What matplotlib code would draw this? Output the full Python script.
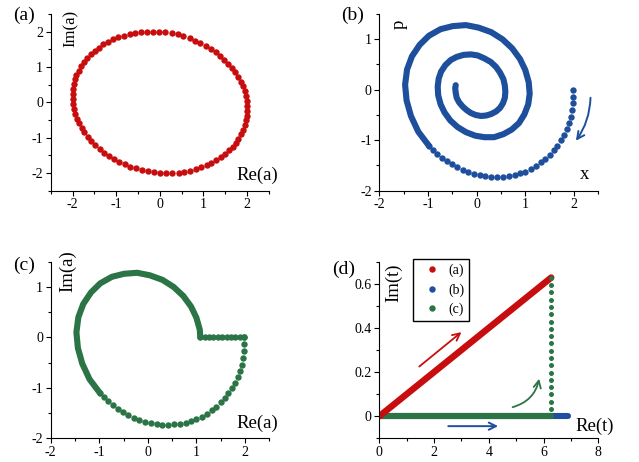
import matplotlib
matplotlib.use('Agg')
import matplotlib.pyplot as plt
from matplotlib.lines import Line2D
from matplotlib.ticker import MultipleLocator

plt.rcParams['font.family'] = ['Liberation Serif', 'DejaVu Serif']
plt.rcParams['axes.unicode_minus'] = False

RED = '#C80D0F'
BLUE = '#1D4F9C'
GREEN = '#2B7446'

# (a) closed orbit, Re(a) / Im(a)
a_re = [2.00, 1.99, 1.97, 1.94, 1.90, 1.85, 1.79, 1.73, 1.65, 1.57, 1.48, 1.38, 1.28, 1.17, 1.05,
        0.93, 0.80, 0.68, 0.54, 0.41, 0.27, 0.13, -0.01, -0.15, -0.29, -0.43, -0.56, -0.69, -0.82,
        -0.95, -1.07, -1.18, -1.29, -1.40, -1.49, -1.58, -1.67, -1.74, -1.80, -1.86, -1.91, -1.94,
        -1.97, -1.99, -2.00,
        -2.00, -1.99, -1.97, -1.94, -1.90, -1.85, -1.79, -1.73, -1.65, -1.57, -1.48, -1.38, -1.28,
        -1.17, -1.05, -0.93, -0.80, -0.68, -0.54, -0.41, -0.27, -0.13, 0.01, 0.15, 0.29, 0.43, 0.56,
        0.69, 0.82, 0.95, 1.07, 1.18, 1.29, 1.40, 1.49, 1.58, 1.67, 1.74, 1.80, 1.86, 1.91, 1.94,
        1.97, 1.99, 2.00]
a_im = [-0.10, 0.04, 0.18, 0.32, 0.46, 0.59, 0.72, 0.85, 0.98, 1.09, 1.21, 1.32, 1.42, 1.51, 1.60,
        1.68, 1.75, 1.82, 1.87, 1.92, 1.95, 1.98, 2.00, 2.00, 2.00, 1.99, 1.96, 1.93, 1.89, 1.84,
        1.78, 1.71, 1.64, 1.55, 1.46, 1.36, 1.26, 1.14, 1.03, 0.90, 0.78, 0.65, 0.51, 0.38, 0.24,
        0.10, -0.04, -0.18, -0.32, -0.46, -0.59, -0.72, -0.85, -0.98, -1.09, -1.21, -1.32, -1.42,
        -1.51, -1.60, -1.68, -1.75, -1.82, -1.87, -1.92, -1.95, -1.98, -2.00, -2.00, -2.00, -1.99,
        -1.96, -1.93, -1.89, -1.84, -1.78, -1.71, -1.64, -1.55, -1.46, -1.36, -1.26, -1.14, -1.03,
        -0.90, -0.78, -0.65, -0.51, -0.38, -0.24]

# (b)/(c) first part of the damped orbit, separate dots
bead_x = [1.98, 1.98, 1.97, 1.96, 1.93, 1.89, 1.85, 1.79, 1.73, 1.66, 1.59, 1.50, 1.41, 1.32,
          1.22, 1.11, 1.00, 0.89, 0.78, 0.66, 0.54, 0.42, 0.30, 0.18, 0.06, -0.06, -0.18, -0.29,
          -0.40, -0.51, -0.61, -0.71, -0.81, -0.90, -0.98]
bead_p = [0.00, -0.14, -0.27, -0.41, -0.54, -0.66, -0.78, -0.90, -1.00, -1.11, -1.20, -1.29,
          -1.37, -1.44, -1.51, -1.57, -1.62, -1.65, -1.69, -1.71, -1.72, -1.73, -1.73, -1.71,
          -1.69, -1.67, -1.63, -1.59, -1.54, -1.48, -1.42, -1.35, -1.27, -1.19, -1.11]

# rest of the spiral, where the dots overlap into a band
spiral_x = [-0.98, -1.20, -1.35, -1.44, -1.47, -1.43, -1.33, -1.17, -0.98, -0.74, -0.49, -0.22,
            0.04, 0.30, 0.53, 0.73, 0.89, 1.00, 1.07, 1.09, 1.06, 0.98, 0.87, 0.72, 0.55, 0.36,
            0.16, -0.03, -0.22, -0.39, -0.54, -0.66, -0.74, -0.79, -0.80, -0.78, -0.73, -0.64,
            -0.53, -0.41, -0.27, -0.12, 0.02, 0.16, 0.29, 0.40, 0.48, 0.55, 0.58, 0.59, 0.58,
            0.54, 0.48, 0.40, 0.30, 0.20, 0.09, -0.02, -0.12, -0.21, -0.29, -0.36, -0.41, -0.43,
            -0.44, -0.43]
spiral_p = [-1.11, -0.83, -0.52, -0.21, 0.10, 0.40, 0.66, 0.89, 1.07, 1.20, 1.26, 1.28, 1.23,
            1.14, 1.00, 0.82, 0.61, 0.39, 0.15, -0.08, -0.29, -0.49, -0.66, -0.79, -0.88, -0.94,
            -0.94, -0.91, -0.84, -0.74, -0.61, -0.45, -0.29, -0.11, 0.06, 0.22, 0.36, 0.49, 0.59,
            0.65, 0.69, 0.70, 0.68, 0.62, 0.55, 0.45, 0.34, 0.21, 0.08, -0.04, -0.16, -0.27,
            -0.36, -0.43, -0.48, -0.51, -0.52, -0.50, -0.46, -0.40, -0.33, -0.25, -0.16, -0.06,
            0.03, 0.09]

# (c) return along the real axis
c_flat_x = [1.08, 1.17, 1.26, 1.35, 1.44, 1.53, 1.62, 1.71, 1.80, 1.89, 1.98]
c_flat_y = [0.00] * len(c_flat_x)

# (d) complex time paths
d_red_re = [0.00, 1.57, 3.14, 4.71, 6.28]
d_red_im = [0.000, 0.157, 0.314, 0.471, 0.628]
d_blue_re = [0.00, 6.90]
d_blue_im = [0.00, 0.00]
d_green_re = [0.00, 6.28]
d_green_im = [0.00, 0.00]
d_green_up_im = [0.033, 0.066, 0.099, 0.132, 0.165, 0.198, 0.231, 0.264, 0.297, 0.330, 0.363,
                 0.396, 0.429, 0.462, 0.495, 0.528, 0.561, 0.594, 0.627]
d_green_up_re = [6.28] * len(d_green_up_im)
d_yticks = [0, 0.2, 0.4, 0.6]
d_ytick_labels = ['0', '0.2', '0.4', '0.6']
legend_labels = ['(a)', '(b)', '(c)']

MS = 4.6
LW = 4.4


def style_axes(ax, xlim, ylim, xmajor, ymajor):
    ax.set_xlim(*xlim)
    ax.set_ylim(*ylim)
    ax.xaxis.set_major_locator(MultipleLocator(xmajor))
    ax.xaxis.set_minor_locator(MultipleLocator(xmajor / 2))
    ax.yaxis.set_major_locator(MultipleLocator(ymajor))
    ax.yaxis.set_minor_locator(MultipleLocator(ymajor / 2))
    for side in ['top', 'right']:
        ax.spines[side].set_visible(False)
    for side in ['left', 'bottom']:
        ax.spines[side].set_linewidth(0.8)
    ax.tick_params(which='major', direction='out', length=3.5, width=0.8, labelsize=10, pad=2)
    ax.tick_params(which='minor', direction='out', length=2, width=0.8)
    ax.set_facecolor('none')


fig = plt.figure(figsize=(6.39, 4.62), dpi=100)
ax_a = fig.add_axes([0.0793, 0.5872, 0.3416, 0.3825])
ax_b = fig.add_axes([0.5936, 0.5872, 0.3427, 0.3825])
ax_c = fig.add_axes([0.0793, 0.0513, 0.3421, 0.3823])
ax_d = fig.add_axes([0.5936, 0.0513, 0.3427, 0.3823])

# (a)
ax_a.plot(a_re, a_im, 'o', color=RED, ms=MS, mew=0)
style_axes(ax_a, (-2.5, 2.5), (-2.5, 2.5), 1, 1)
ax_a.text(0.09, 0.92, 'Im(a)', transform=ax_a.transAxes, rotation=90, fontsize=12,
          ha='center', va='center')
ax_a.text(0.945, 0.089, 'Re(a)', transform=ax_a.transAxes, fontsize=13.5, ha='center', va='center')

# (b)
ax_b.plot(spiral_x, spiral_p, '-', color=BLUE, lw=LW, solid_capstyle='round', solid_joinstyle='round')
ax_b.plot(bead_x, bead_p, 'o', color=BLUE, ms=MS, mew=0)
style_axes(ax_b, (-2, 2.5), (-2, 1.5), 1, 1)
ax_b.text(0.092, 0.943, 'p', transform=ax_b.transAxes, rotation=90, fontsize=13.5,
          ha='center', va='center')
ax_b.text(0.939, 0.089, 'x', transform=ax_b.transAxes, fontsize=13.5, ha='center', va='center')
ax_b.annotate('', xy=(2.04, -1.01), xytext=(2.34, -0.16),
              arrowprops=dict(arrowstyle='->', color=BLUE, lw=1.4, mutation_scale=13,
                              connectionstyle='arc3,rad=-0.15', shrinkA=0, shrinkB=0))

# (c)
ax_c.plot(spiral_x[:19] + [1.08], spiral_p[:19] + [0.00], '-', color=GREEN, lw=LW,
          solid_capstyle='round', solid_joinstyle='round')
ax_c.plot(bead_x, bead_p, 'o', color=GREEN, ms=MS, mew=0)
ax_c.plot(c_flat_x, c_flat_y, 'o', color=GREEN, ms=MS, mew=0)
style_axes(ax_c, (-2, 2.5), (-2, 1.5), 1, 1)
ax_c.text(0.077, 0.947, 'Im(a)', transform=ax_c.transAxes, rotation=90, fontsize=13.5,
          ha='center', va='center')
ax_c.text(0.944, 0.087, 'Re(a)', transform=ax_c.transAxes, fontsize=13.5, ha='center', va='center')

# (d)
ax_d.plot(d_blue_re, d_blue_im, '-', color=BLUE, lw=LW, solid_capstyle='round')
ax_d.plot(d_green_re, d_green_im, '-', color=GREEN, lw=LW, solid_capstyle='round')
ax_d.plot(d_red_re, d_red_im, '-', color=RED, lw=LW + 0.3, solid_capstyle='round')
ax_d.plot(d_green_up_re, d_green_up_im, 'o', color=GREEN, ms=3.6, mew=0)
style_axes(ax_d, (0, 8), (-0.1, 0.7), 2, 0.2)
ax_d.set_yticks(d_yticks)
ax_d.set_yticklabels(d_ytick_labels)
ax_d.text(0.064, 0.882, 'Im(t)', transform=ax_d.transAxes, rotation=90, fontsize=13.5,
          ha='center', va='center')
ax_d.text(0.985, 0.067, 'Re(t)', transform=ax_d.transAxes, fontsize=13.5, ha='center', va='center')
ax_d.annotate('', xy=(3.0, 0.381), xytext=(1.46, 0.225),
              arrowprops=dict(arrowstyle='->', color=RED, lw=1.3, mutation_scale=13,
                              shrinkA=0, shrinkB=0))
ax_d.annotate('', xy=(4.34, -0.045), xytext=(2.52, -0.045),
              arrowprops=dict(arrowstyle='->', color=BLUE, lw=1.4, mutation_scale=13,
                              shrinkA=0, shrinkB=0))
ax_d.annotate('', xy=(5.84, 0.17), xytext=(4.87, 0.041),
              arrowprops=dict(arrowstyle='->', color=GREEN, lw=1.3, mutation_scale=13,
                              connectionstyle='arc3,rad=0.3', shrinkA=0, shrinkB=0))
handles = [Line2D([], [], ls='none', marker='o', ms=MS, mew=0, color=c) for c in (RED, BLUE, GREEN)]
leg = ax_d.legend(handles, legend_labels, loc='upper left', bbox_to_anchor=(0.6458, 0.4387),
                  bbox_transform=fig.transFigure, borderaxespad=0, fontsize=10, frameon=True,
                  fancybox=False, framealpha=1, edgecolor='black', borderpad=0.3,
                  labelspacing=0.45, handlelength=2.2, handletextpad=0.1)
leg.get_frame().set_linewidth(1.0)

# panel letters
fig.text(0.0376, 0.9675, '(a)', fontsize=14, ha='center', va='center')
fig.text(0.551, 0.9675, '(b)', fontsize=14, ha='center', va='center')
fig.text(0.0376, 0.4264, '(c)', fontsize=14, ha='center', va='center')
fig.text(0.538, 0.4177, '(d)', fontsize=14, ha='center', va='center')

fig.savefig('out.png', dpi=100)
